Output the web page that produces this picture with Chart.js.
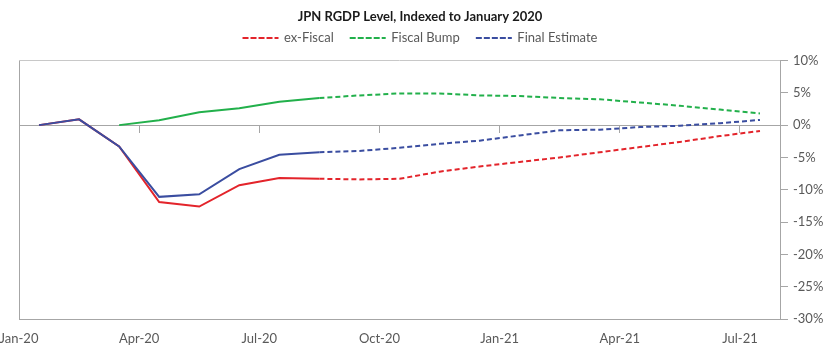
<!DOCTYPE html>
<html>
<head>
<meta charset="utf-8">
<script src="https://cdn.jsdelivr.net/npm/chart.js@4/dist/chart.umd.min.js"></script>
<style>
  html, body { margin: 0; padding: 0; background: #fff; }
  #wrap { width: 840px; height: 357px; }
</style>
</head>
<body>
<div id="wrap"><canvas id="c"></canvas></div>
<script>
// Monthly categories (data points plotted mid-month)
const months = ['Jan-20','Feb-20','Mar-20','Apr-20','May-20','Jun-20','Jul-20','Aug-20','Sep-20','Oct-20','Nov-20','Dec-20','Jan-21','Feb-21','Mar-21','Apr-21','May-21','Jun-21','Jul-21'];
const tickLabels = ['Jan-20','Apr-20','Jul-20','Oct-20','Jan-21','Apr-21','Jul-21'];
const yTicks = [10, 5, 0, -5, -10, -15, -20, -25, -30];

// Series values (% vs January 2020)
const exFiscal      = [0, 0.9, -3.3, -11.9, -12.6, -9.3, -8.2, -8.3, -8.4, -8.3, -7.2, -6.4, -5.7, -5.0, -4.2, -3.4, -2.6, -1.7, -0.9];
const fiscalBump    = [null, null, 0, 0.75, 2.0, 2.6, 3.6, 4.2, 4.6, 4.9, 4.9, 4.6, 4.5, 4.2, 4.0, 3.5, 3.0, 2.4, 1.8];
const finalEstimate = [0, 0.9, -3.3, -11.1, -10.7, -6.8, -4.6, -4.2, -4.0, -3.5, -2.9, -2.4, -1.6, -0.8, -0.7, -0.3, -0.1, 0.3, 0.8];
const forecastStart = 7; // index from which lines are dashed

const toPts = arr => arr.map((v, i) => ({ x: i + 0.5, y: v }));
const GRAY = '#A6A6A6';
const TXT = '#595959';
const FONT = 'Lato, "Noto Sans", sans-serif';

function ds(label, arr, color, order) {
  return {
    label, data: toPts(arr), borderColor: color, backgroundColor: 'rgba(0,0,0,0)',
    borderWidth: 2, pointRadius: 0, tension: 0, order,
    borderDash: [5, 3],
    segment: { borderDash: c => c.p0DataIndex < forecastStart ? [] : undefined }
  };
}

// extra space below the legend
const legendSpace = {
  id: 'legendSpace',
  afterInit(chart) {
    const lg = chart.legend;
    if (lg && !lg._patched) {
      const orig = lg.fit;
      lg.fit = function () { orig.call(this); this.height += 6; };
      lg._patched = true;
    }
  }
};

new Chart(document.getElementById('c'), {
  type: 'line',
  plugins: [legendSpace],
  data: {
    datasets: [
      ds('ex-Fiscal', exFiscal, '#E3242B', 2),
      ds('Fiscal Bump', fiscalBump, '#22B04B', 1),
      ds('Final Estimate', finalEstimate, '#3A4DA0', 0)
    ]
  },
  options: {
    responsive: true, maintainAspectRatio: false, animation: false,
    layout: { padding: { left: 0, right: 0, bottom: 10, top: 0 } },
    plugins: {
      tooltip: { enabled: false },
      title: {
        display: true, text: 'JPN RGDP Level, Indexed to January 2020',
        color: '#1a1a1a', font: { family: FONT, size: 13, weight: 'bold' },
        padding: { top: 9.2, bottom: -9.3 }
      },
      legend: {
        display: true,
        labels: {
          boxWidth: 35, boxHeight: 0.01,
          color: TXT, font: { family: FONT, size: 13 }, padding: 16,
          sort: (a, b) => a.datasetIndex - b.datasetIndex
        }
      }
    },
    scales: {
      x: {
        type: 'linear', min: 0, max: months.length,
        afterFit: s => { s.paddingLeft = 19; s.paddingRight = 0; s.height = 28; },
        ticks: {
          stepSize: 3, includeBounds: false, padding: 12, color: TXT, maxRotation: 0,
          font: { family: FONT, size: 13 },
          callback: v => tickLabels[v / 3]
        },
        grid: { drawTicks: false, color: c => (c.tick && c.tick.value === 0) ? GRAY : 'rgba(0,0,0,0)' },
        border: { display: true, color: GRAY }
      },
      x2: {
        type: 'linear', min: 0, max: months.length, position: { y: 0 },
        afterFit: s => { s.height = 0; s.paddingLeft = 0; s.paddingRight = 0; },
        ticks: { display: false, stepSize: 3, includeBounds: false },
        grid: { drawOnChartArea: false, drawTicks: true, tickLength: 7, tickColor: GRAY },
        border: { display: true, color: GRAY }
      },
      y: {
        position: 'right', min: -30, max: 10,
        afterBuildTicks: s => { s.ticks = yTicks.map(v => ({ value: v })); },
        afterFit: s => { s.width = 60; },
        ticks: { color: TXT, padding: 5, font: { family: FONT, size: 13 }, callback: v => v + '%' },
        grid: { drawTicks: true, tickLength: 8, tickColor: GRAY, color: c => (c.tick && c.tick.value === 10) ? '#C8C8C8' : 'rgba(0,0,0,0)' },
        border: { display: true, color: GRAY }
      }
    }
  }
});
</script>
</body>
</html>
